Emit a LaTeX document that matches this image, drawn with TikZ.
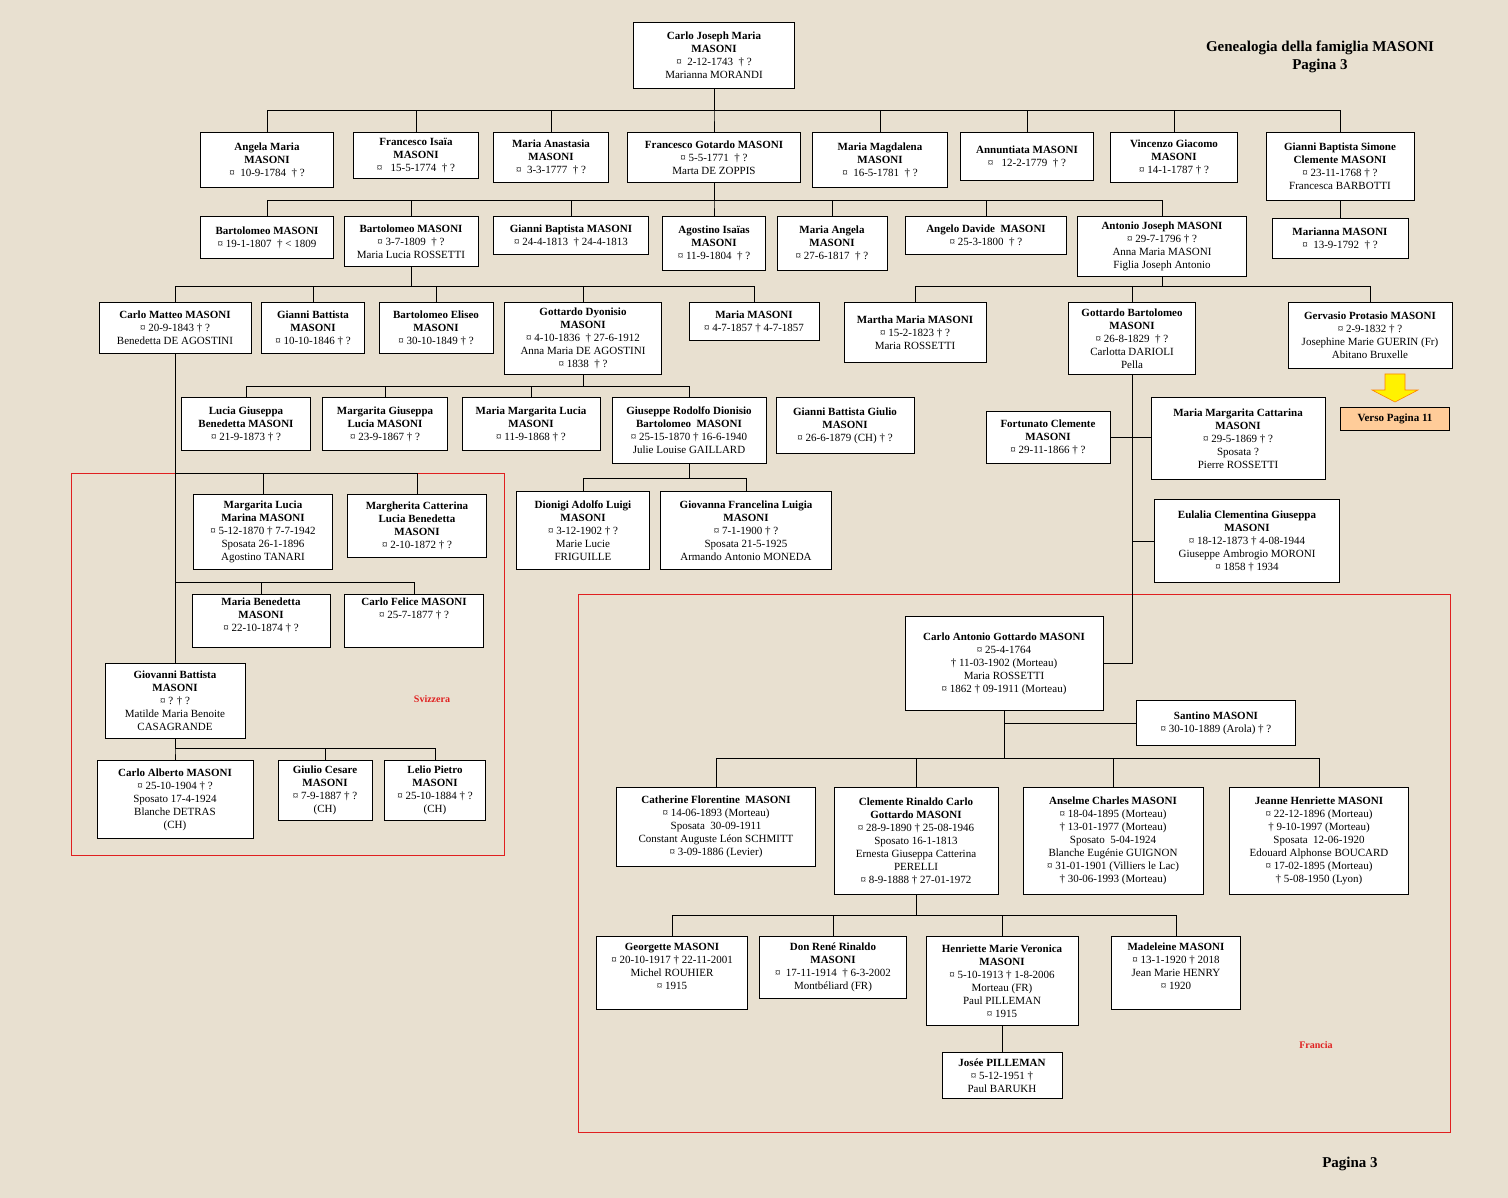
\documentclass[tikz,border=0pt]{standalone}
\usepackage{fontspec}
\setmainfont{Liberation Serif}
\usetikzlibrary{positioning}
\definecolor{carta}{HTML}{E8E0D0}
\definecolor{rosso}{HTML}{E02020}
\newcommand\nm[1]{\textbf{#1}}
\tikzset{
  pers/.style={draw, fill=white, align=center, inner sep=2pt, anchor=north,
    font=\fontsize{11}{13}\selectfont},
  zona/.style={draw=rosso},
  zonalabel/.style={text=rosso, font=\fontsize{10}{12}\selectfont\bfseries},
  titolo/.style={font=\fontsize{15}{18}\selectfont\bfseries, align=center}
}
\begin{document}
\begin{tikzpicture}[x=1pt,y=-1pt,line width=0.8pt]
  % Background and frame
  \fill[carta] (0,0) rectangle (1508,1198);
  \useasboundingbox (0,0) rectangle (1508,1198);
  \draw[zona] (71,473) rectangle (504,855);
  \draw[zona] (578,594) rectangle (1450,1132);
  \node[zonalabel] (svi) at (432,699) {Svizzera};
  \node[zonalabel] (fra) at (1316,1045) {Francia};
  \node[titolo] (tit) at (1320,57) {Genealogia della famiglia MASONI\\Pagina 3};
  \node[titolo] (pag) at (1350,1164) {Pagina 3};

  % Root
  \node[pers, minimum width=161, minimum height=66] at (714,22) (r0) {\nm{Carlo Joseph Maria}\\\nm{MASONI}\\¤~ 2-12-1743~ † ?\\Marianna MORANDI};

  % Row 1
  \node[pers, minimum width=133, minimum height=55] at (267,132) (a1) {\nm{Angela Maria}\\\nm{MASONI}\\¤~ 10-9-1784~ † ?};
  \node[pers, minimum width=125, minimum height=46] at (416,132) (a2) {\nm{Francesco Isaïa}\\\nm{MASONI}\\¤~~ 15-5-1774~ † ?};
  \node[pers, minimum width=115, minimum height=50] at (551,132) (a3) {\nm{Maria Anastasia}\\\nm{MASONI}\\¤~ 3-3-1777~ † ?};
  \node[pers, minimum width=173, minimum height=50] at (714,132) (a4) {\nm{Francesco Gotardo MASONI}\\¤ 5-5-1771~ † ?\\Marta DE ZOPPIS};
  \node[pers, minimum width=135, minimum height=55] at (880,132) (a5) {\nm{Maria Magdalena}\\\nm{MASONI}\\¤~ 16-5-1781~ † ?};
  \node[pers, minimum width=133, minimum height=48] at (1027,132) (a6) {\nm{Annuntiata MASONI}\\¤~~ 12-2-1779~ † ?};
  \node[pers, minimum width=127, minimum height=50] at (1174,132) (a7) {\nm{Vincenzo Giacomo}\\\nm{MASONI}\\¤ 14-1-1787 † ?};
  \node[pers, minimum width=148, minimum height=68] at (1340,132) (a8) {\nm{Gianni Baptista Simone}\\\nm{Clemente MASONI}\\¤ 23-11-1768 † ?\\Francesca BARBOTTI};
  \foreach \c in {a1,a2,a3,a4,a5,a6,a7,a8}
    \draw (r0.south) -- ++(0,22) -| (\c.north);

  % Row 2
  \node[pers, minimum width=133, minimum height=42] at (267,216) (b1) {\nm{Bartolomeo MASONI}\\¤ 19-1-1807~ † < 1809};
  \node[pers, minimum width=134, minimum height=50] at (411,216) (b2) {\nm{Bartolomeo MASONI}\\¤ 3-7-1809~ † ?\\Maria Lucia ROSSETTI};
  \node[pers, minimum width=155, minimum height=38] at (571,216) (b3) {\nm{Gianni Baptista MASONI}\\¤ 24-4-1813~ † 24-4-1813};
  \node[pers, minimum width=103, minimum height=54] at (714,216) (b4) {\nm{Agostino Isaïas}\\\nm{MASONI}\\¤ 11-9-1804~ † ?};
  \node[pers, minimum width=110, minimum height=54] at (832,216) (b5) {\nm{Maria Angela}\\\nm{MASONI}\\¤ 27-6-1817~ † ?};
  \node[pers, minimum width=161, minimum height=38] at (986,216) (b6) {\nm{Angelo Davide~ MASONI}\\¤ 25-3-1800~ † ?};
  \node[pers, minimum width=169, minimum height=60] at (1162,216) (b7) {\nm{Antonio Joseph MASONI}\\¤ 29-7-1796 † ?\\Anna Maria MASONI\\Figlia Joseph Antonio};
  \node[pers, minimum width=136, minimum height=40] at (1340,218) (b8) {\nm{Marianna MASONI}\\¤~ 13-9-1792~ † ?};
  \foreach \c in {b1,b2,b3,b4,b5,b6,b7}
    \draw (a4.south) -- ++(0,18) -| (\c.north);
  \draw (a8.south) -- (b8.north);

  % Row 3
  \node[pers, minimum width=152, minimum height=51] at (175,302) (c1) {\nm{Carlo Matteo MASONI}\\¤ 20-9-1843 † ?\\Benedetta DE AGOSTINI};
  \node[pers, minimum width=103, minimum height=51] at (313,302) (c2) {\nm{Gianni Battista}\\\nm{MASONI}\\¤ 10-10-1846 † ?};
  \node[pers, minimum width=114, minimum height=51] at (436,302) (c3) {\nm{Bartolomeo Eliseo}\\\nm{MASONI}\\¤ 30-10-1849 † ?};
  \node[pers, minimum width=157, minimum height=72] at (583,302) (c4) {\nm{Gottardo Dyonisio}\\\nm{MASONI}\\¤ 4-10-1836~ † 27-6-1912\\Anna Maria DE AGOSTINI\\¤ 1838~ † ?};
  \node[pers, minimum width=130, minimum height=38] at (754,302) (c5) {\nm{Maria MASONI}\\¤ 4-7-1857 † 4-7-1857};
  \node[pers, minimum width=142, minimum height=60] at (915,302) (c6) {\nm{Martha Maria MASONI}\\¤ 15-2-1823 † ?\\Maria ROSSETTI};
  \node[pers, minimum width=127, minimum height=72] at (1132,302) (c7) {\nm{Gottardo Bartolomeo}\\\nm{MASONI}\\¤ 26-8-1829~ † ?\\Carlotta DARIOLI\\Pella};
  \node[pers, minimum width=164, minimum height=66] at (1370,302) (c8) {\nm{Gervasio Protasio MASONI}\\¤ 2-9-1832 † ?\\Josephine Marie GUERIN (Fr)\\Abitano Bruxelle};
  \foreach \c in {c1,c2,c3,c4,c5}
    \draw (b2.south) -- ++(0,20) -| (\c.north);
  \foreach \c in {c6,c7,c8}
    \draw (b7.south) -- ++(0,10) -| (\c.north);

  % Verso pagina 11
  \draw[draw=orange, fill=yellow, line width=0.6pt] (1385,374) -- (1405,374) -- (1405,390) -- (1418,390)
    -- (1395,402) -- (1372,390) -- (1385,390) -- cycle;
  \node[pers, fill=orange!40, minimum width=109, minimum height=23] at (1395,407) (v11) {\nm{Verso Pagina 11}};

  % Row 4 (Gottardo Dyonisio)
  \node[pers, minimum width=129, minimum height=53] at (246,397) (d1) {\nm{Lucia Giuseppa}\\\nm{Benedetta MASONI}\\¤ 21-9-1873 † ?};
  \node[pers, minimum width=125, minimum height=53] at (385,397) (d2) {\nm{Margarita Giuseppa}\\\nm{Lucia MASONI}\\¤ 23-9-1867 † ?};
  \node[pers, minimum width=138, minimum height=53] at (531,397) (d3) {\nm{Maria Margarita Lucia}\\\nm{MASONI}\\¤ 11-9-1868 † ?};
  \node[pers, minimum width=154, minimum height=66] at (689,397) (d4) {\nm{Giuseppe Rodolfo Dionisio}\\\nm{Bartolomeo~ MASONI}\\¤ 25-15-1870 † 16-6-1940\\Julie Louise GAILLARD};
  \node[pers, minimum width=138, minimum height=56] at (845,397) (d5) {\nm{Gianni Battista Giulio}\\\nm{MASONI}\\¤ 26-6-1879 (CH) † ?};
  \foreach \c in {d1,d2,d3,d4}
    \draw (c4.south) -- ++(0,12) -| (\c.north);

  \node[pers, minimum width=133, minimum height=78] at (583,491) (g1) {\nm{Dionigi Adolfo Luigi}\\\nm{MASONI}\\¤ 3-12-1902 † ?\\Marie Lucie\\FRIGUILLE};
  \node[pers, minimum width=171, minimum height=78] at (746,491) (g2) {\nm{Giovanna Francelina Luigia}\\\nm{MASONI}\\¤ 7-1-1900 † ?\\Sposata 21-5-1925\\Armando Antonio MONEDA};
  \foreach \c in {g1,g2}
    \draw (d4.south) -- ++(0,15) -| (\c.north);

  % Svizzera
  \node[pers, minimum width=139, minimum height=75] at (263,494) (e1) {\nm{Margarita Lucia}\\\nm{Marina MASONI}\\¤ 5-12-1870 † 7-7-1942\\Sposata 26-1-1896\\Agostino TANARI};
  \node[pers, minimum width=139, minimum height=63] at (417,494) (e2) {\nm{Margherita Catterina}\\\nm{Lucia Benedetta}\\\nm{MASONI}\\¤ 2-10-1872 † ?};
  \node[pers, minimum width=138, minimum height=53] at (261,594) (e3) {\nm{Maria Benedetta}\\\nm{MASONI}\\¤ 22-10-1874 † ?\\~};
  \node[pers, minimum width=139, minimum height=53] at (414,594) (e4) {\nm{Carlo Felice MASONI}\\¤ 25-7-1877 † ?\\~\\~};
  \node[pers, minimum width=140, minimum height=75] at (175,663) (e5) {\nm{Giovanni Battista}\\\nm{MASONI}\\¤ ? † ?\\Matilde Maria Benoite\\CASAGRANDE};
  \draw (c1.south) -- (e5.north);
  \foreach \c in {e1,e2}
    \draw (\c.north) -- ++(0,-21) -| (c1.south);
  \foreach \c in {e3,e4}
    \draw (\c.north) -- ++(0,-12) -| (c1.south);
  \node[pers, minimum width=156, minimum height=78] at (175,760) (f1) {\nm{Carlo Alberto MASONI}\\¤ 25-10-1904 † ?\\Sposato 17-4-1924\\Blanche DETRAS\\(CH)};
  \node[pers, minimum width=94, minimum height=60] at (325,760) (f2) {\nm{Giulio Cesare}\\\nm{MASONI}\\¤ 7-9-1887 † ?\\(CH)};
  \node[pers, minimum width=101, minimum height=60] at (435,760) (f3) {\nm{Lelio Pietro}\\\nm{MASONI}\\¤ 25-10-1884 † ?\\(CH)};
  \foreach \c in {f1,f2,f3}
    \draw (e5.south) -- ++(0,10) -| (\c.north);

  % Gottardo Bartolomeo
  \node[pers, minimum width=124, minimum height=52] at (1048,411) (fc) {\nm{Fortunato Clemente}\\\nm{MASONI}\\¤ 29-11-1866 † ?};
  \node[pers, minimum width=174, minimum height=82] at (1238,397) (mm) {\nm{Maria Margarita Cattarina}\\\nm{MASONI}\\¤ 29-5-1869 † ?\\Sposata ?\\Pierre ROSSETTI};
  \node[pers, minimum width=185, minimum height=83] at (1247,499) (eu) {\nm{Eulalia Clementina Giuseppa}\\\nm{MASONI}\\¤ 18-12-1873 † 4-08-1944\\Giuseppe Ambrogio MORONI\\¤ 1858 † 1934};
  \node[pers, minimum width=198, minimum height=94] at (1004,616) (ca) {\nm{Carlo Antonio Gottardo MASONI}\\¤ 25-4-1764\\† 11-03-1902 (Morteau)\\Maria ROSSETTI\\¤ 1862 † 09-1911 (Morteau)};
  \draw (c7.south) |- (ca.east);
  \draw (fc.east) -- (fc.east -| mm.west);
  \draw (c7.south |- eu.west) -- (eu.west);

  % Francia
  \node[pers, minimum width=159, minimum height=45] at (1216,700) (sa) {\nm{Santino MASONI}\\¤ 30-10-1889 (Arola) † ?};
  \draw (ca.south |- sa.west) -- (sa.west);
  \node[pers, minimum width=199, minimum height=79] at (716,787) (h1) {\nm{Catherine Florentine~ MASONI}\\¤ 14-06-1893 (Morteau)\\Sposata~ 30-09-1911\\Constant Auguste Léon SCHMITT\\¤ 3-09-1886 (Levier)};
  \node[pers, minimum width=164, minimum height=107] at (916,787) (h2) {\nm{Clemente Rinaldo Carlo}\\\nm{Gottardo MASONI}\\¤ 28-9-1890 † 25-08-1946\\Sposato 16-1-1813\\Ernesta Giuseppa Catterina\\PERELLI\\¤ 8-9-1888 † 27-01-1972};
  \node[pers, minimum width=180, minimum height=107] at (1113,787) (h3) {\nm{Anselme Charles MASONI}\\¤ 18-04-1895 (Morteau)\\† 13-01-1977 (Morteau)\\Sposato~ 5-04-1924\\Blanche Eugénie GUIGNON\\¤ 31-01-1901 (Villiers le Lac)\\† 30-06-1993 (Morteau)};
  \node[pers, minimum width=179, minimum height=107] at (1319,787) (h4) {\nm{Jeanne Henriette MASONI}\\¤ 22-12-1896 (Morteau)\\† 9-10-1997 (Morteau)\\Sposata~ 12-06-1920\\Edouard Alphonse BOUCARD\\¤ 17-02-1895 (Morteau)\\† 5-08-1950 (Lyon)};
  \foreach \c in {h1,h2,h3,h4}
    \draw (ca.south) -- ++(0,48) -| (\c.north);

  \node[pers, minimum width=151, minimum height=73] at (672,936) (i1) {\nm{Georgette MASONI}\\¤ 20-10-1917 † 22-11-2001\\Michel ROUHIER\\¤ 1915\\~};
  \node[pers, minimum width=147, minimum height=62] at (833,936) (i2) {\nm{Don René Rinaldo}\\\nm{MASONI}\\¤~ 17-11-1914~ † 6-3-2002\\Montbéliard (FR)};
  \node[pers, minimum width=152, minimum height=89] at (1002,936) (i3) {\nm{Henriette Marie Veronica}\\\nm{MASONI}\\¤ 5-10-1913 † 1-8-2006\\Morteau (FR)\\Paul PILLEMAN\\¤ 1915};
  \node[pers, minimum width=129, minimum height=73] at (1176,936) (i4) {\nm{Madeleine MASONI}\\¤ 13-1-1920 † 2018\\Jean Marie HENRY\\¤ 1920\\~};
  \foreach \c in {i1,i2,i3,i4}
    \draw (h2.south) -- ++(0,21) -| (\c.north);
  \node[pers, minimum width=120, minimum height=46] at (1002,1052) (j1) {\nm{Josée PILLEMAN}\\¤ 5-12-1951 †\\Paul BARUKH};
  \draw (i3.south) -- (j1.north);
\end{tikzpicture}
\end{document}
